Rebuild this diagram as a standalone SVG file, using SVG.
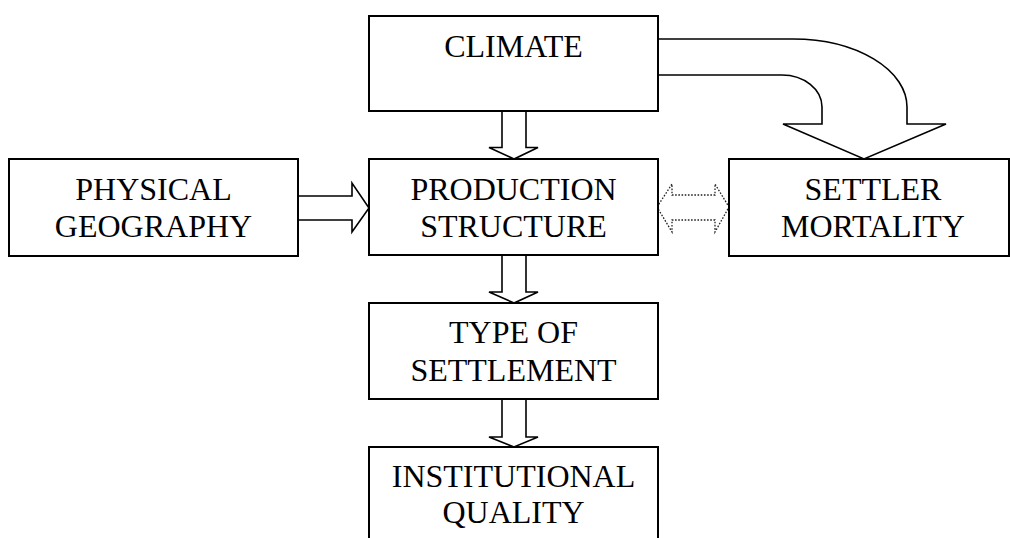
<svg xmlns="http://www.w3.org/2000/svg" width="1010" height="538" viewBox="0 0 1010 538">
<style>
.box{fill:#fff;stroke:#000;stroke-width:2}
.arr{fill:#fff;stroke:#000;stroke-width:1.6;stroke-linejoin:miter}
.dot{fill:none;stroke:#222;stroke-width:1.3;stroke-dasharray:1.6 1.6}
text{font-family:"Liberation Serif","Times New Roman",serif;font-size:32px;fill:#000;text-anchor:middle}
</style>
<rect width="1010" height="538" fill="#fff"/>
<g id="connectors">
<path class="arr" d="M502,111 V147.5 H489 L514,159 L538,147.5 H526 V111"/>
<path class="arr" d="M502,255 V292 H489 L514,303 L538,292 H526 V255"/>
<path class="arr" d="M502,399 V437 H489 L514,447 L538,437 H526 V399"/>
<path class="arr" d="M298,196 H352 V183 L369,208 L352,232 V220 H298"/>
<path class="arr" d="M658,39 H793 A114,68 0 0 1 907,107 V124 H946 L864,159 L783,124 H822 V107 A40,32 0 0 0 782,75 H658"/>
<path class="dot" d="M657,207 L672,184 V195 H715 V184 L729,207 L715,232 V220 H672 V232 Z"/>
</g>
<g id="climate">
<rect class="box" x="369" y="16" width="289" height="95"/>
<text x="513.5" y="57">CLIMATE</text>
</g>
<g id="physical-geography">
<rect class="box" x="9" y="159" width="289" height="97"/>
<text x="153.5" y="200">PHYSICAL</text>
<text x="153.5" y="237">GEOGRAPHY</text>
</g>
<g id="production-structure">
<rect class="box" x="369" y="159" width="289" height="96"/>
<text x="513.5" y="200">PRODUCTION</text>
<text x="513.5" y="237">STRUCTURE</text>
</g>
<g id="settler-mortality">
<rect class="box" x="729" y="159" width="280" height="97"/>
<text x="873" y="200">SETTLER</text>
<text x="873" y="237">MORTALITY</text>
</g>
<g id="type-of-settlement">
<rect class="box" x="369" y="303" width="289" height="96"/>
<text x="513.5" y="343">TYPE OF</text>
<text x="513.5" y="381">SETTLEMENT</text>
</g>
<g id="institutional-quality">
<rect class="box" x="369" y="447" width="289" height="100"/>
<text x="513.5" y="487">INSTITUTIONAL</text>
<text x="513.5" y="523">QUALITY</text>
</g>
</svg>
